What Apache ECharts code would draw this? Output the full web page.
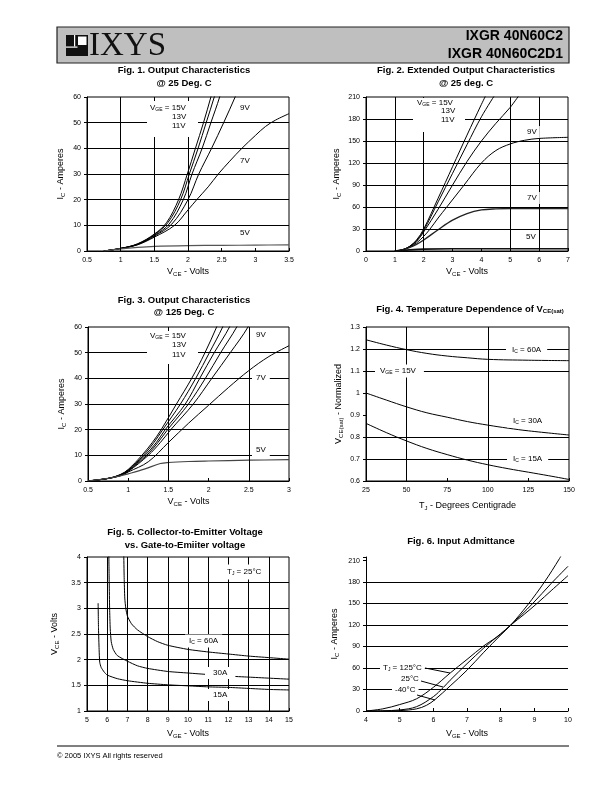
<!DOCTYPE html>
<html><head><meta charset="utf-8">
<script src="https://cdn.jsdelivr.net/npm/echarts/dist/echarts.min.js"></script>
<style>html,body{margin:0;padding:0;background:#fff}#c{width:595px;height:791px}</style>
</head><body><div id="c"></div>
<script>
const FONT = "'Liberation Sans', Arial, Helvetica, sans-serif";

// ---------- Fig. 1 Output Characteristics @ 25 C ----------
const f1XTicks = [0.5, 1, 1.5, 2, 2.5, 3, 3.5];
const f1YTicks = [0, 10, 20, 30, 40, 50, 60];
const f1_15V = [[0.75,0],[1,1],[1.25,2.8],[1.5,6.6],[1.68,11],[1.86,20],[1.99,30],[2.11,40],[2.23,50],[2.34,60],[2.4,66]];
const f1_13V = [[0.75,0],[1,1],[1.25,2.7],[1.5,6.4],[1.70,11],[1.89,20],[2.02,30],[2.15,40],[2.27,50],[2.39,60],[2.45,66]];
const f1_11V = [[0.75,0],[1,1],[1.25,2.6],[1.5,6.1],[1.72,10.5],[1.93,20],[2.06,30],[2.21,40],[2.34,50],[2.47,60],[2.53,66]];
const f1_9V  = [[0.75,0],[1,1],[1.25,2.5],[1.5,5.8],[1.76,10.5],[2.0,20],[2.16,30],[2.35,40],[2.53,50],[2.70,60],[2.78,65]];
const f1_7V  = [[0.75,0],[1,1],[1.25,2.4],[1.5,5.4],[1.8,10],[2,16],[2.13,20],[2.3,25],[2.45,30],[2.62,35],[2.8,40],[3,45],[3.15,48.5],[3.3,51],[3.5,53.5]];
const f1_5V  = [[0.75,0],[1,0.8],[1.25,1.4],[1.5,1.8],[2,2.1],[2.5,2.2],[3,2.3],[3.5,2.4]];

// ---------- Fig. 2 Extended Output Characteristics @ 25 C ----------
const f2XTicks = [0, 1, 2, 3, 4, 5, 6, 7];
const f2YTicks = [0, 30, 60, 90, 120, 150, 180, 210];
const f2_15V = [[1,0],[1.25,1.5],[1.5,6],[1.75,15],[2,30],[2.5,72],[3,115],[3.5,158],[4,200],[4.2,216]];
const f2_13V = [[1,0],[1.25,1.5],[1.5,6],[1.75,14],[2,28],[2.5,67],[3,106],[3.5,145],[4,183],[4.5,215]];
const f2_11V = [[1,0],[1.25,1.5],[1.5,5.5],[1.75,13],[2,26],[2.5,57],[3,90],[3.5,122],[4,150],[4.5,174],[5,196],[5.35,215]];
const f2_9V  = [[1,0],[1.25,1.5],[1.5,5],[1.75,11],[2,20],[2.2,29],[2.5,45],[2.8,60],[3.4,90],[4,120],[4.5,137],[5,146],[5.5,151],[6,153.5],[7,155]];
const f2_7V  = [[1,0],[1.25,1.5],[1.5,4.5],[1.75,9],[2,15],[2.5,29],[3,42],[3.5,51],[4,56],[4.5,57.5],[5,58],[6,58],[7,58]];
const f2_5V  = [[1,0],[1.5,1.5],[2,2.5],[3,3],[4,3],[5,3],[7,3]];

// ---------- Fig. 3 Output Characteristics @ 125 C ----------
const f3XTicks = [0.5, 1, 1.5, 2, 2.5, 3];
const f3YTicks = [0, 10, 20, 30, 40, 50, 60];
const f3_15V = [[0.5,0],[0.75,1],[0.9,2.5],[1,4.5],[1.17,10],[1.3,15],[1.41,20],[1.6,30],[1.79,40],[1.955,50],[2.1,60],[2.15,64]];
const f3_13V = [[0.5,0],[0.75,1],[0.9,2.4],[1,4.3],[1.19,10],[1.32,15],[1.43,20],[1.65,30],[1.84,40],[2.01,50],[2.175,60],[2.22,64]];
const f3_11V = [[0.5,0],[0.75,1],[0.9,2.3],[1,4.1],[1.21,10],[1.35,15],[1.46,20],[1.71,30],[1.89,40],[2.07,50],[2.26,60],[2.3,64]];
const f3_10V = [[0.5,0],[0.75,1],[0.9,2.2],[1,3.9],[1.23,10],[1.37,15],[1.49,20],[1.75,30],[1.96,40],[2.15,50],[2.35,60],[2.4,64]];
const f3_9V  = [[0.5,0],[0.75,1],[0.9,2.1],[1,3.7],[1.25,10],[1.4,15],[1.53,20],[1.81,30],[2.04,40],[2.27,50],[2.49,60],[2.53,64]];
const f3_7V  = [[0.5,0],[0.75,1],[0.9,2],[1,3.5],[1.25,7.5],[1.5,15],[1.75,22.5],[2,29.5],[2.25,36.5],[2.5,43],[2.75,48.5],[3,52.7]];
const f3_5V  = [[0.5,0],[0.75,1],[0.9,2],[1,2.8],[1.2,4.6],[1.4,6.8],[1.5,7.2],[1.75,7.6],[2,7.8],[2.5,8.1],[3,8.3]];

// ---------- Fig. 4 Temperature Dependence of VCE(sat) ----------
const f4XTicks = [25, 50, 75, 100, 125, 150];
const f4YTicks = [0.6, 0.7, 0.8, 0.9, 1.0, 1.1, 1.2, 1.3];
const f4_60A = [[25,1.242],[37.5,1.218],[50,1.197],[62.5,1.18],[75,1.168],[87.5,1.16],[100,1.153],[125,1.149],[150,1.147]];
const f4_30A = [[25,1.0],[37.5,0.968],[50,0.937],[62.5,0.91],[75,0.89],[87.5,0.87],[100,0.854],[112.5,0.84],[125,0.828],[150,0.809]];
const f4_15A = [[25,0.862],[37.5,0.82],[50,0.782],[62.5,0.748],[75,0.72],[87.5,0.695],[100,0.674],[112.5,0.656],[125,0.64],[137.5,0.624],[150,0.607]];

// ---------- Fig. 5 VCE vs VGE ----------
const f5XTicks = [5, 6, 7, 8, 9, 10, 11, 12, 13, 14, 15];
const f5YTicks = [1, 1.5, 2, 2.5, 3, 3.5, 4];
const f5_60A = [[6.82,4.05],[6.84,3.6],[6.87,3.2],[6.92,3.0],[7.0,2.85],[7.2,2.7],[7.5,2.58],[8,2.45],[8.5,2.35],[9,2.28],[10,2.2],[11,2.15],[12,2.11],[13,2.07],[14,2.04],[15,2.01]];
const f5_30A = [[6.08,4.05],[6.1,3.5],[6.12,3.0],[6.15,2.6],[6.2,2.35],[6.3,2.2],[6.5,2.08],[7,1.97],[7.5,1.88],[8,1.83],[9,1.77],[10,1.74],[11,1.71],[12,1.68],[13,1.66],[14,1.64],[15,1.62]];
const f5_15A = [[5.55,3.1],[5.57,2.6],[5.6,2.2],[5.63,1.95],[5.7,1.85],[5.85,1.76],[6,1.7],[6.5,1.63],[7,1.59],[8,1.54],[9,1.51],[10,1.49],[11,1.47],[12,1.46],[13,1.44],[14,1.42],[15,1.41]];

// ---------- Fig. 6 Input Admittance ----------
const f6XTicks = [4, 5, 6, 7, 8, 9, 10];
const f6YTicks = [0, 30, 60, 90, 120, 150, 180, 210];
const f6YMax = 215;
const f6_125C = [[4,0],[4.5,3],[5,9],[5.5,17],[6,33],[6.5,53],[7,72],[7.5,91],[8,107],[8.3,120],[8.7,135],[9.1,151],[9.5,168],[10,189]];
const f6_25C  = [[4,0],[4.5,0.3],[5,1.5],[5.5,6],[6,20],[6.3,33],[6.5,43],[7,66],[7.5,88],[8,108],[8.3,120],[8.95,150],[9.5,178],[10,202]];
const f6_m40C = [[4,0],[4.5,0],[5,0.5],[5.5,3],[5.8,8],[6.05,16],[6.5,35],[7,57],[7.5,82],[8,106],[8.3,120],[8.8,148],[9.3,180],[9.75,213],[9.85,222]];

// ---------- layout ----------
function rich(size, weight) {
  weight = weight || 'normal';
  return {
    n: {fontSize: size, fontFamily: FONT, fontWeight: weight, color: '#000'},
    s: {fontSize: Math.round(size * 0.66), fontFamily: FONT, fontWeight: weight, color: '#000', padding: [Math.round(size * 0.5), 0, 0, 0]}
  };
}
const VCE = '{n|V}{s|CE}{n| - Volts}';
const VGE = '{n|V}{s|GE}{n| - Volts}';
const IC = '{n|I}{s|C}{n| - Amperes}';

const figs = [
  {g:{left:87,top:97,width:202,height:154}, border:true, xT:f1XTicks, yT:f1YTicks, xName:VCE, yName:IC, xGap:15, yGap:21, sm:0.35,
   curves:[[f1_15V],[f1_13V],[f1_11V],[f1_9V],[f1_7V],[f1_5V,'#555',1.2]], gx:[1,1.5,2], gy:[10,20,30,40,50]},
  {g:{left:366,top:97,width:202,height:154}, border:true, xT:f2XTicks, yT:f2YTicks, xName:VCE, yName:IC, xGap:15, yGap:24, sm:0.35,
   curves:[[f2_15V],[f2_13V],[f2_11V],[f2_9V],[f2_7V,'#222',1.4],[f2_5V,'#111',1.6]], gx:[1,2,5,6], gy:[30,60,90,120,150,180]},
  {g:{left:88,top:327,width:201,height:154}, border:true, xT:f3XTicks, yT:f3YTicks, xName:VCE, yName:IC, xGap:15, yGap:21, sm:0.35,
   curves:[[f3_15V],[f3_13V],[f3_11V],[f3_10V],[f3_9V],[f3_7V],[f3_5V,'#444',1.2]], gx:[1.5,2.5], gy:[10,20,30,40,50]},
  {g:{left:366,top:327,width:203,height:154}, border:true, xT:f4XTicks, yT:f4YTicks, xName:'{n|T}{s|J}{n| - Degrees Centigrade}', yName:'{n|V}{s|CE(sat)}{n| - Normalized}', xGap:19, yGap:22, sm:0.4,
   curves:[[f4_60A],[f4_30A],[f4_15A]], gx:[50,100], gy:[0.7,0.8,1.1,1.2]},
  {g:{left:87,top:557,width:202,height:154}, border:true, xT:f5XTicks, yT:f5YTicks, xName:VGE, yName:VCE, xGap:17, yGap:27, sm:0.2,
   curves:[[f5_60A],[f5_30A],[f5_15A]], gx:[6,7,8,9,10,11,12,13,14], gy:[1.5,2,2.5,3,3.5]},
  {g:{left:366,top:557,width:202,height:154}, border:false, xT:f6XTicks, yT:f6YTicks, yMax:f6YMax, xName:VGE, yName:IC, xGap:17, yGap:26, sm:0.35,
   curves:[[f6_125C],[f6_25C],[f6_m40C]], gx:[], gy:[30,60,90,120,150,180]}
];

const grid = [], xAxis = [], yAxis = [], series = [];
figs.forEach((f, i) => {
  grid.push(Object.assign({show: f.border, borderColor:'#000', borderWidth:1, backgroundColor:'transparent', containLabel:false, outerBoundsMode:'none'}, f.g));
  const common = {
    gridIndex: i, type: 'value', splitLine: {show:false},
    axisLine: {show:true, onZero:false, lineStyle:{color:'#000', width:1}},
    nameLocation: 'middle'
  };
  xAxis.push(Object.assign({}, common, {
    min: f.xT[0], max: f.xT[f.xT.length-1], interval: f.xT[1]-f.xT[0],
    axisTick: {show:true, inside:true, length:3, lineStyle:{color:'#000'}},
    axisLabel: {fontSize:7, fontFamily:FONT, color:'#000', margin:6},
    name: f.xName, nameGap: f.xGap, nameTextStyle: {rich: rich(9)}
  }));
  const yT = f.yT;
  yAxis.push(Object.assign({}, common, {
    min: yT[0], max: f.yMax || yT[yT.length-1], interval: +(yT[1]-yT[0]).toFixed(6),
    axisTick: {show:true, inside:false, length:3, lineStyle:{color:'#000'}},
    axisLabel: {fontSize:7, fontFamily:FONT, color:'#000', margin:6,
      formatter: v => yT.some(t => Math.abs(t - v) < 1e-6) ? String(+v.toFixed(2)) : ''},
    name: f.yName, nameGap: f.yGap, nameTextStyle: {rich: rich(9)}
  }));
  // reference grid lines
  series.push({
    type:'line', xAxisIndex:i, yAxisIndex:i, data:[], silent:true, z:1,
    markLine: {silent:true, symbol:['none','none'], animation:false, label:{show:false},
      lineStyle:{type:'solid', color:'#000', width:1},
      data: f.gx.map(v => ({xAxis:v})).concat(f.gy.map(v => ({yAxis:v})))}
  });
  f.curves.forEach(c => {
    series.push({
      type:'line', xAxisIndex:i, yAxisIndex:i, data:c[0], symbol:'none', showSymbol:false,
      smooth:f.sm, clip:true, silent:true, z:3,
      lineStyle:{color:c[1] || '#000', width:c[2] || 1}
    });
  });
});

// ---------- texts ----------
function txt(text, x, y, size, opts) {
  opts = opts || {};
  const st = {text, x, y, fill:'#000', rich: rich(size, opts.weight),
    align: opts.align || 'left', verticalAlign:'middle',
    fontSize:size, fontFamily:FONT, fontWeight: opts.weight || 'normal'};
  if (opts.bg) { st.backgroundColor = '#fff'; st.padding = opts.pad || [2, 4]; }
  return {type:'text', z:100, silent:true, style:st};
}
function box(x, y, w, h) { return {type:'rect', z:99, silent:true, shape:{x, y, width:w, height:h}, style:{fill:'#fff'}}; }
function seg(x1, y1, x2, y2) { return {type:'line', z:101, silent:true, shape:{x1, y1, x2, y2}, style:{stroke:'#000', lineWidth:1}}; }

const graphic = [
  // header
  {type:'rect', z:90, shape:{x:57, y:27, width:512, height:36}, style:{fill:'#bfbfbf', stroke:'#222', lineWidth:1.2}},
  {type:'rect', z:91, shape:{x:66, y:35, width:22, height:21}, style:{fill:'#111'}},
  {type:'rect', z:92, shape:{x:77.5, y:36, width:9.5, height:9.5}, style:{fill:'#fff', stroke:'#111', lineWidth:1}},
  {type:'rect', z:92, shape:{x:66, y:46.5, width:11.5, height:1.2}, style:{fill:'#fff'}},
  {type:'rect', z:92, shape:{x:74, y:35, width:1.2, height:11.5}, style:{fill:'#fff'}},
  {type:'text', z:93, style:{text:'IXYS', x:89, y:46, fill:'#111', fontSize:33, fontFamily:"'Liberation Serif', 'Times New Roman', serif", align:'left', verticalAlign:'middle'}},
  txt('{n|IXGR 40N60C2}', 563, 36, 14, {align:'right', weight:'bold'}),
  txt('{n|IXGR 40N60C2D1}', 563, 54, 14, {align:'right', weight:'bold'}),
  // figure titles
  txt('{n|Fig. 1. Output Characteristics}', 184, 70, 9.5, {align:'center', weight:'bold'}),
  txt('{n|@ 25 Deg. C}', 184, 83, 9.5, {align:'center', weight:'bold'}),
  txt('{n|Fig. 2. Extended Output Characteristics}', 466, 70, 9.5, {align:'center', weight:'bold'}),
  txt('{n|@ 25 deg. C}', 466, 83, 9.5, {align:'center', weight:'bold'}),
  txt('{n|Fig. 3. Output Characteristics}', 184, 300, 9.5, {align:'center', weight:'bold'}),
  txt('{n|@ 125 Deg. C}', 184, 312, 9.5, {align:'center', weight:'bold'}),
  txt('{n|Fig. 4. Temperature Dependence of V}{s|CE(sat)}', 470, 309, 9.5, {align:'center', weight:'bold'}),
  txt('{n|Fig. 5. Collector-to-Emitter Voltage}', 185, 532, 9.5, {align:'center', weight:'bold'}),
  txt('{n|vs. Gate-to-Emiiter voltage}', 185, 545, 9.5, {align:'center', weight:'bold'}),
  txt('{n|Fig. 6. Input Admittance}', 461, 541, 9.5, {align:'center', weight:'bold'}),
  // Fig 1 annotations
  box(147, 101, 51, 36),
  txt('{n|V}{s|GE}{n| = 15V}', 150, 108, 8),
  txt('{n|13V}', 172, 117, 8),
  txt('{n|11V}', 172, 126, 8),
  txt('{n|9V}', 240, 108, 8),
  txt('{n|7V}', 240, 161, 8),
  txt('{n|5V}', 240, 233, 8),
  // Fig 2 annotations
  box(413, 98, 52, 34),
  txt('{n|V}{s|GE}{n| = 15V}', 417, 103, 8),
  txt('{n|13V}', 441, 111, 8),
  txt('{n|11V}', 441, 120, 8),
  txt('{n|9V}', 524, 132, 8, {bg:true, pad:[2,3]}),
  txt('{n|7V}', 524, 198, 8, {bg:true, pad:[2,3]}),
  txt('{n|5V}', 523, 237, 8, {bg:true, pad:[2,3]}),
  // Fig 3 annotations
  box(147, 331, 51, 33),
  txt('{n|V}{s|GE}{n| = 15V}', 150, 336, 8),
  txt('{n|13V}', 172, 345, 8),
  txt('{n|11V}', 172, 355, 8),
  txt('{n|9V}', 252, 335, 8, {bg:true, pad:[2,4]}),
  txt('{n|7V}', 252, 378, 8, {bg:true, pad:[2,4]}),
  txt('{n|5V}', 252, 450, 8, {bg:true, pad:[3,4]}),
  // Fig 4 annotations
  txt('{n|I}{s|C}{n| = 60A}', 506, 350, 8, {bg:true, pad:[2,6]}),
  txt('{n|V}{s|GE}{n| = 15V}', 375, 371, 8, {bg:true, pad:[2,8,2,5]}),
  txt('{n|I}{s|C}{n| = 30A}', 507, 421, 8, {bg:true, pad:[2,6]}),
  txt('{n|I}{s|C}{n| = 15A}', 507, 459, 8, {bg:true, pad:[2,6]}),
  // Fig 5 annotations
  txt('{n|T}{s|J}{n| = 25°C}', 223, 572, 8, {bg:true, pad:[3,4]}),
  txt('{n|I}{s|C}{n| = 60A}', 185, 641, 8, {bg:true, pad:[2,4]}),
  txt('{n|30A}', 205, 673, 8, {bg:true, pad:[2,8]}),
  txt('{n|15A}', 207, 695, 8, {bg:true, pad:[2,6]}),
  // Fig 6 annotations
  txt('{n|T}{s|J}{n| = 125°C}', 380, 668, 8, {bg:true, pad:[2,3]}),
  txt('{n|25°C}', 398, 679, 8, {bg:true, pad:[1,3]}),
  txt('{n|-40°C}', 392, 690, 8, {bg:true, pad:[1,3]}),
  seg(425, 668, 450, 673),
  seg(421, 681, 443, 687),
  seg(417, 695, 435, 700),
  // footer
  {type:'line', z:100, shape:{x1:57, y1:746, x2:569, y2:746}, style:{stroke:'#000', lineWidth:1}},
  txt('{n|© 2005 IXYS All rights reserved}', 57, 756, 7.5)
];

const chart = echarts.init(document.getElementById('c'), null, {renderer:'canvas'});
chart.setOption({animation:false, backgroundColor:'#fff', grid, xAxis, yAxis, series, graphic, tooltip:{show:false}});
</script></body></html>
